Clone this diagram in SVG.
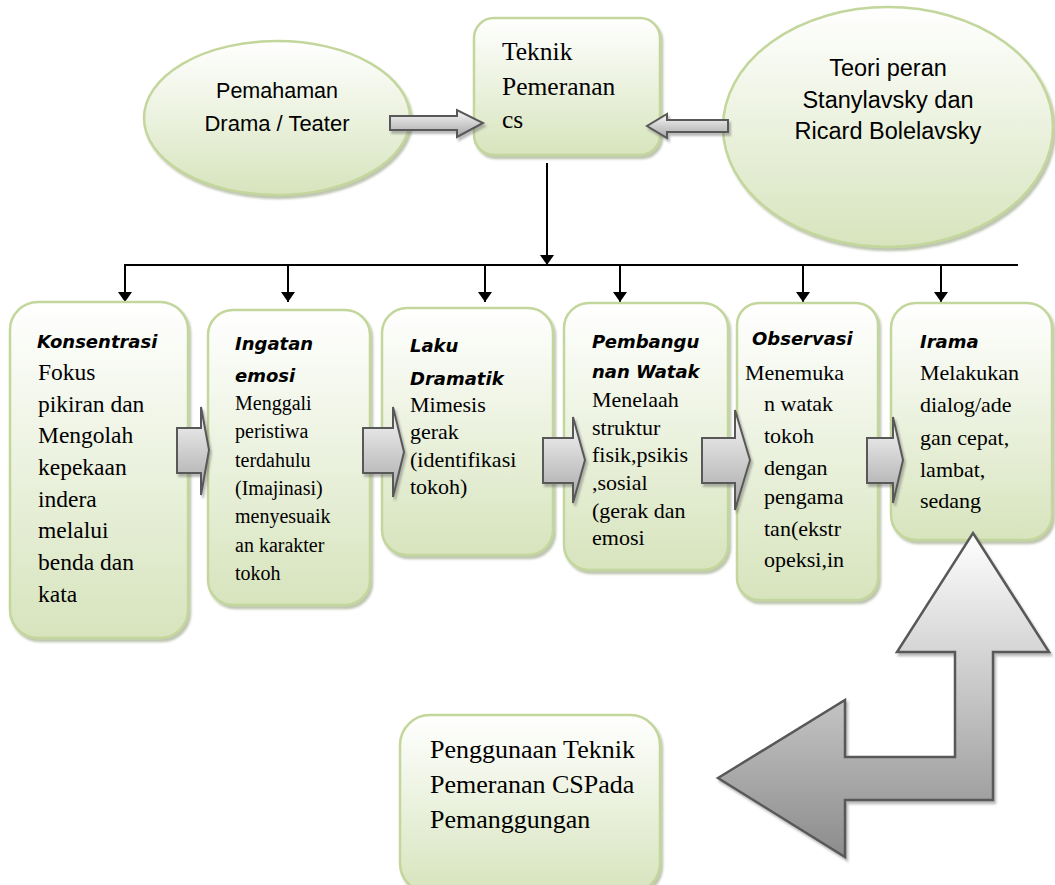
<svg xmlns="http://www.w3.org/2000/svg" width="1055" height="885" viewBox="0 0 1055 885">
<defs>
<linearGradient id="gGreen" x1="0" y1="0" x2="0" y2="1">
<stop offset="0" stop-color="#ffffff"/>
<stop offset="1" stop-color="#d7e4bd"/>
</linearGradient>
<linearGradient id="gGray" x1="0" y1="0" x2="0" y2="1">
<stop offset="0" stop-color="#f8f8f8"/>
<stop offset="1" stop-color="#a6a6a6"/>
</linearGradient>
<linearGradient id="gBig" gradientUnits="userSpaceOnUse" x1="0" y1="533" x2="0" y2="857">
<stop offset="0" stop-color="#ffffff"/>
<stop offset="1" stop-color="#8c8c8c"/>
</linearGradient>
<filter id="sh" x="-10%" y="-10%" width="130%" height="130%">
<feDropShadow dx="2" dy="3" stdDeviation="1.2" flood-color="#6f7f50" flood-opacity="0.45"/>
</filter>
<filter id="shg" x="-20%" y="-20%" width="150%" height="150%">
<feDropShadow dx="2" dy="3" stdDeviation="1" flood-color="#555" flood-opacity="0.4"/>
</filter>
<marker id="ah" viewBox="0 0 10 14" refX="10" refY="7" markerWidth="10" markerHeight="14" markerUnits="userSpaceOnUse" orient="auto">
<path d="M0,0 L10,7 L0,14 Z" fill="#000"/>
</marker>
<style>
.node{fill:url(#gGreen);stroke:#c3d69b;stroke-width:2.5;filter:url(#sh)}
.blk{fill:url(#gGray);stroke:#595959;stroke-width:2;filter:url(#shg)}
.ln{stroke:#000;stroke-width:2;fill:none}
.lnA{stroke:#000;stroke-width:2;fill:none;marker-end:url(#ah)}
.sans{font-family:"Liberation Sans",Arial,sans-serif;fill:#000}
.ser{font-family:"Liberation Serif","Times New Roman",serif;fill:#000}
.ttl{font-family:"DejaVu Sans",sans-serif;font-weight:bold;font-style:italic;font-size:18px;fill:#000}
</style>
</defs>

<g id="connectors">
<line class="lnA" x1="547" y1="163" x2="547" y2="265"/>
<line class="ln" x1="124" y1="265" x2="1018" y2="265"/>
<line class="lnA" x1="125" y1="265" x2="125" y2="302"/>
<line class="lnA" x1="288" y1="265" x2="288" y2="302"/>
<line class="lnA" x1="485" y1="265" x2="485" y2="302"/>
<line class="lnA" x1="620" y1="265" x2="620" y2="302"/>
<line class="lnA" x1="803" y1="265" x2="803" y2="302"/>
<line class="lnA" x1="941" y1="265" x2="941" y2="302"/>
</g>

<g id="pemahaman">
<ellipse class="node" cx="277" cy="118" rx="133" ry="77"/>
<text class="sans" font-size="21.5" text-anchor="middle" x="277" y="98">Pemahaman</text>
<text class="sans" font-size="22" text-anchor="middle" x="277" y="131">Drama / Teater</text>
</g>

<g id="teori">
<ellipse class="node" cx="888" cy="127" rx="165" ry="120"/>
<text class="sans" font-size="23.5" text-anchor="middle" x="888" y="76">Teori peran</text>
<text class="sans" font-size="23.5" text-anchor="middle" x="888" y="108">Stanylavsky dan</text>
<text class="sans" font-size="23.5" text-anchor="middle" x="888" y="139">Ricard Bolelavsky</text>
</g>

<g id="teknik">
<rect class="node" x="474" y="18" width="186" height="137" rx="20"/>
<text class="ser" font-size="25.5" x="502" y="60">Teknik</text>
<text class="ser" font-size="25.5" x="502" y="95">Pemeranan</text>
<text class="ser" font-size="25.5" x="502" y="128">cs</text>
</g>

<g id="konsentrasi">
<rect class="node" x="10" y="302" width="178" height="336" rx="28"/>
<text class="ttl" x="37" y="348">Konsentrasi</text>
<text class="ser" font-size="23.5">
<tspan x="38" y="380">Fokus</tspan>
<tspan x="38" y="412">pikiran dan</tspan>
<tspan x="38" y="443">Mengolah</tspan>
<tspan x="38" y="475">kepekaan</tspan>
<tspan x="38" y="507">indera</tspan>
<tspan x="38" y="538">melalui</tspan>
<tspan x="38" y="570">benda dan</tspan>
<tspan x="38" y="602">kata</tspan>
</text>
</g>

<g id="ingatan">
<rect class="node" x="208" y="310" width="162" height="295" rx="25"/>
<text class="ttl" x="235" y="350">Ingatan</text>
<text class="ttl" x="235" y="382">emosi</text>
<text class="ser" font-size="20">
<tspan x="235" y="410">Menggali</tspan>
<tspan x="235" y="438">peristiwa</tspan>
<tspan x="235" y="467">terdahulu</tspan>
<tspan x="235" y="495">(Imajinasi)</tspan>
<tspan x="235" y="523">menyesuaik</tspan>
<tspan x="235" y="552">an karakter</tspan>
<tspan x="235" y="580">tokoh</tspan>
</text>
</g>

<g id="laku">
<rect class="node" x="382" y="308" width="171" height="247" rx="25"/>
<text class="ttl" x="410" y="352">Laku</text>
<text class="ttl" x="410" y="385">Dramatik</text>
<text class="ser" font-size="22">
<tspan x="410" y="412">Mimesis</tspan>
<tspan x="410" y="439">gerak</tspan>
<tspan x="410" y="467">(identifikasi</tspan>
<tspan x="410" y="494">tokoh)</tspan>
</text>
</g>

<g id="pembangunan">
<rect class="node" x="564" y="303" width="164" height="267" rx="25"/>
<text class="ttl" x="592" y="348">Pembangu</text>
<text class="ttl" x="592" y="378">nan Watak</text>
<text class="ser" font-size="22">
<tspan x="592" y="407">Menelaah</tspan>
<tspan x="592" y="435">struktur</tspan>
<tspan x="592" y="462">fisik,psikis</tspan>
<tspan x="592" y="490">,sosial</tspan>
<tspan x="592" y="518">(gerak dan</tspan>
<tspan x="592" y="545">emosi</tspan>
</text>
</g>

<g id="observasi">
<rect class="node" x="737" y="303" width="141" height="297" rx="22"/>
<text class="ttl" x="752" y="345">Observasi</text>
<text class="ser" font-size="22">
<tspan x="745" y="380">Menemuka</tspan>
<tspan x="764" y="411">n watak</tspan>
<tspan x="764" y="443">tokoh</tspan>
<tspan x="764" y="475">dengan</tspan>
<tspan x="764" y="504">pengama</tspan>
<tspan x="764" y="536">tan(ekstr</tspan>
<tspan x="764" y="567">opeksi,in</tspan>
</text>
</g>

<g id="irama">
<rect class="node" x="891" y="303" width="161" height="237" rx="25"/>
<text class="ttl" x="920" y="348">Irama</text>
<text class="ser" font-size="22">
<tspan x="920" y="380">Melakukan</tspan>
<tspan x="920" y="412">dialog/ade</tspan>
<tspan x="920" y="445">gan cepat,</tspan>
<tspan x="920" y="477">lambat,</tspan>
<tspan x="920" y="508">sedang</tspan>
</text>
</g>

<g id="penggunaan">
<rect class="node" x="400" y="715" width="260" height="178" rx="30"/>
<text class="ser" font-size="26">
<tspan x="430" y="758">Penggunaan Teknik</tspan>
<tspan x="430" y="793">Pemeranan CSPada</tspan>
<tspan x="430" y="828">Pemanggungan</tspan>
</text>
</g>

<g id="block-arrows">
<path class="blk" d="M390,116 H457 V110 L483,123 L457,137 V130 H390 Z"/>
<path class="blk" d="M728,120 H667 V114 L647,126 L667,138 V132 H728 Z"/>
<path class="blk" d="M177,428 H201 V407 L209,450 L201,495 V473 H177 Z"/>
<path class="blk" d="M363,428 H393 V407 L404,452 L393,497 V473 H363 Z"/>
<path class="blk" d="M543,438 H573 V417 L585,460 L573,503 V483 H543 Z"/>
<path class="blk" d="M702,438 H735 V410 L750,460 L735,510 V483 H702 Z"/>
<path class="blk" d="M867,438 H893 V417 L903,460 L893,503 V483 H867 Z"/>
<path d="M718,778 L845,700 L845,757 L955,757 L955,652 L897,652 L973,533 L1049,652 L993,652 L993,800 L845,800 L845,857 Z" fill="url(#gBig)" stroke="#595959" stroke-width="2.5" filter="url(#shg)"/>
</g>
</svg>
